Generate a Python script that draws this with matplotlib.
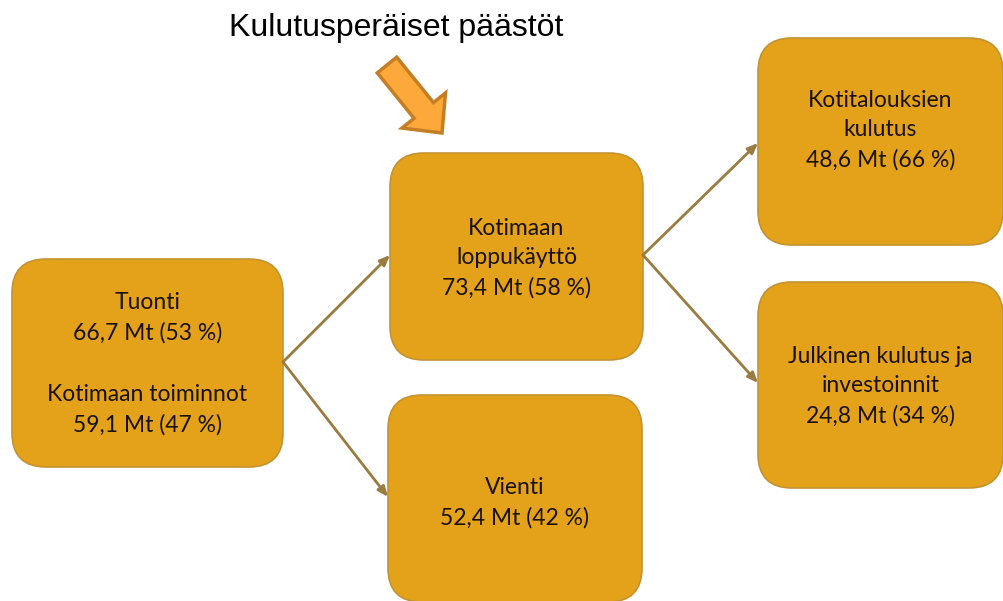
import matplotlib.pyplot as plt
from matplotlib.patches import FancyBboxPatch, FancyArrow

# Box labels, values (Mt) and shares (%)
names = ["Kotimaan\nloppukäyttö", "Vienti", "Kotitalouksien\nkulutus",
         "Julkinen kulutus ja\ninvestoinnit"]
values = [73.4, 52.4, 48.6, 24.8]
shares = [58, 42, 66, 34]

src_names = ["Tuonti", "Kotimaan toiminnot"]
src_values = [66.7, 59.1]
src_shares = [53, 47]

title = "Kulutusperäiset päästöt"

fill = "#E3A21A"
edge = "#C39333"
line = "#9A7B40"

# box geometry in pixels: x0, y0, x1, y1
boxes = {
    "src": (12, 259, 283, 467),
    0: (390, 153, 643, 360),
    1: (388, 395, 642, 602),
    2: (758, 38, 1003, 245),
    3: (758, 282, 1003, 488),
}


def fmt(v, s):
    return f"{v:.1f}".replace(".", ",") + f" Mt ({s} %)"


fig = plt.figure(figsize=(10.04, 6.01), dpi=100)
ax = fig.add_axes([0, 0, 1, 1])
ax.set_xlim(0, 1004)
ax.set_ylim(601, 0)
ax.axis("off")

for key, (x0, y0, x1, y1) in boxes.items():
    ax.add_patch(FancyBboxPatch((x0, y0), x1 - x0, y1 - y0,
                                boxstyle="round,pad=0,rounding_size=34",
                                facecolor=fill, edgecolor=edge, linewidth=1.2))

font = dict(family="Lato", fontsize=16.5, color="#1a1208", ha="center",
            va="center", linespacing=1.5)

# source box
x0, y0, x1, y1 = boxes["src"]
cx = (x0 + x1) / 2
ax.text(cx, 318, src_names[0] + "\n" + fmt(src_values[0], src_shares[0]), **font)
ax.text(cx, 410, src_names[1] + "\n" + fmt(src_values[1], src_shares[1]), **font)

text_y = [258, 503, 130, 386]
for i in range(4):
    x0, y0, x1, y1 = boxes[i]
    ax.text((x0 + x1) / 2, text_y[i], names[i] + "\n" + fmt(values[i], shares[i]),
            **font)

# connecting arrows
links = [((283, 362), (390, 255)), ((283, 362), (388, 497)),
         ((643, 255), (758, 143)), ((643, 255), (758, 383))]
for (xa, ya), (xb, yb) in links:
    ax.annotate("", xy=(xb, yb), xytext=(xa, ya),
                arrowprops=dict(arrowstyle="-|>,head_length=0.6,head_width=0.25",
                                color=line, lw=2, shrinkA=0, shrinkB=0))

# highlight arrow and title
ax.add_patch(FancyArrow(387, 65, 55, 68, width=25, head_width=56, head_length=29,
                        length_includes_head=True, facecolor="#FDA83A",
                        edgecolor="#C47F24", linewidth=2.5))
ax.text(396, 28, title, family="Liberation Sans", fontsize=23, ha="center",
        va="center", color="black")

plt.savefig("out.png", dpi=100)
